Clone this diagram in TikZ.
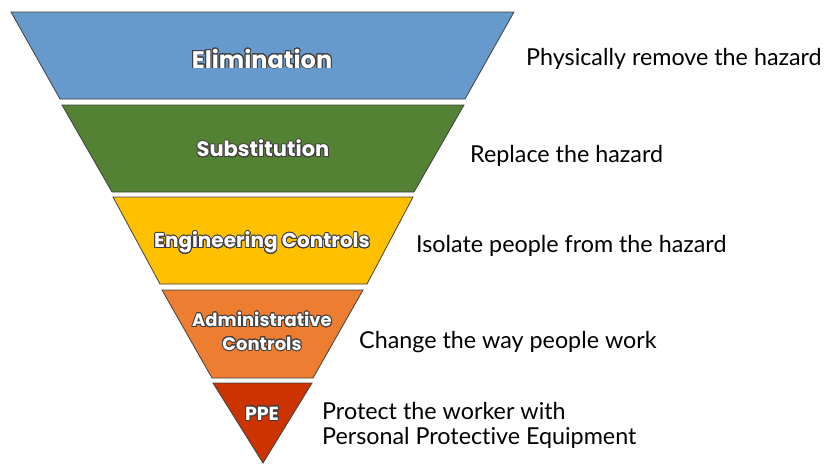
\documentclass[tikz,border=0pt]{standalone}
\usepackage{fontspec}
\setmainfont{Lato}[Ligatures={NoCommon}]
\newfontfamily\labfont{Poppins}[Ligatures={NoCommon}]
\usepackage[copies]{contour}
\contourlength{0.9pt}
\contournumber{24}
\definecolor{elim}{HTML}{6699CC}
\definecolor{subs}{HTML}{548235}
\definecolor{engi}{HTML}{FFC000}
\definecolor{admi}{HTML}{ED7D31}
\definecolor{ppec}{HTML}{CC3300}
\definecolor{edge}{HTML}{404040}
\tikzset{
  band/.style={draw=edge, line width=0.8pt, line join=miter},
  lab/.style={text=white, inner sep=0pt},
  desc/.style={anchor=west, inner sep=0pt, text=black, font=\fontsize{23.3}{28}\selectfont, align=left}
}
\begin{document}
\begin{tikzpicture}[x=1pt,y=-1pt]
\useasboundingbox (0,0) rectangle (832,464);
\path[band, fill=elim] (11,12) -- (514,12) -- (465,99) -- (60,99) -- cycle;
\path[band, fill=subs] (62,105) -- (464,105) -- (414,192) -- (112,192) -- cycle;
\path[band, fill=engi] (113,197) -- (413,197) -- (367,284) -- (160,284) -- cycle;
\path[band, fill=admi] (162,290) -- (363,290) -- (313,378) -- (212,378) -- cycle;
\path[band, fill=ppec] (213,383) -- (312,383) -- (263,463) -- cycle;

\node[lab, font=\labfont\bfseries\fontsize{24}{30}\selectfont] (l1) at (262,59) {\contour{edge}{Elimination}};
\node[lab, font=\labfont\bfseries\fontsize{21}{26}\selectfont] (l2) at (263,149) {\contour{edge}{Substitution}};
\node[lab, font=\labfont\bfseries\fontsize{20}{24}\selectfont] (l3) at (262,243) {\contour{edge}{Engineering Controls}};
\node[lab, font=\labfont\bfseries\fontsize{18}{23}\selectfont] (l4a) at (262,320) {\contour{edge}{Administrative}};
\node[lab, font=\labfont\bfseries\fontsize{18}{23}\selectfont] (l4b) at (262,344) {\contour{edge}{Controls}};
\node[lab, font=\labfont\bfseries\fontsize{19}{23}\selectfont] (l5) at (262,414) {\contour{edge}{PPE}};

\node[desc] (d1) at (526,59) {Physically remove the hazard};
\node[desc] (d2) at (470,156) {Replace the hazard};
\node[desc] (d3) at (416,246) {Isolate people from the hazard};
\node[desc] (d4) at (359,342) {Change the way people work};
\node[desc] (d5a) at (322,411) {Protect the worker with};
\node[desc] (d5b) at (322,438) {Personal Protective Equipment};
\end{tikzpicture}
\end{document}
